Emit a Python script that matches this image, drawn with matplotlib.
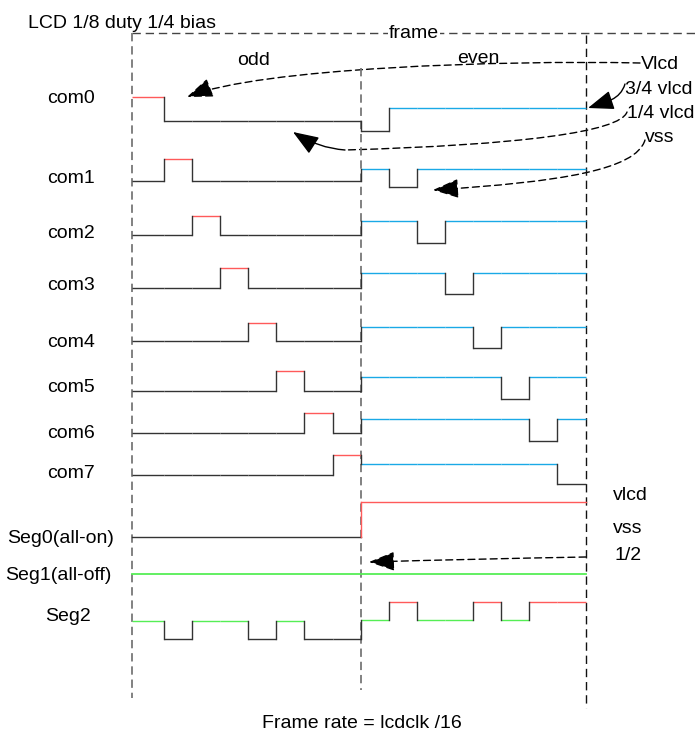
import matplotlib
matplotlib.use('Agg')
import matplotlib.pyplot as plt
from matplotlib.path import Path
from matplotlib.patches import FancyArrowPatch

plt.rcParams['font.family'] = ['Liberation Sans', 'DejaVu Sans']
plt.rcParams['lines.scale_dashes'] = False

# time slot boundaries (odd frame / even frame)
odd_edges = [132, 164, 192, 220, 248, 276, 304, 333, 361]
even_edges = [361, 389, 417, 445, 473, 501, 529, 557, 586]

# com waveforms: level of selected / unselected slot
com_names = ['com0', 'com1', 'com2', 'com3', 'com4', 'com5', 'com6', 'com7']
com_label_y = [103, 183, 238, 290, 347, 392, 438, 478]
odd_high = [97, 159, 216, 268, 323, 371, 413, 455]
odd_low = [121, 181, 235, 288, 341, 391, 433, 475]
even_high = [108, 169, 221, 273, 327, 377, 419, 464]
even_low = [131, 187, 243, 294, 348, 399, 441, 484]

# segments
seg_names = ['Seg0(all-on)', 'Seg1(all-off)', 'Seg2']
seg_label_x = [7, 5, 45]
seg_label_y = [543, 580, 621]
seg0_odd, seg0_even = 537, 502
seg1_level = 574
seg2_odd_levels = (639, 621)   # low, high
seg2_even_levels = (620, 602)
seg2_odd = [1, 0, 1, 1, 0, 1, 0, 0]
seg2_even = [0, 1, 0, 0, 1, 0, 1, 1]

# voltage labels on the right
volt_top = ['Vlcd', '3/4 vlcd', '1/4 vlcd', 'vss']
volt_top_x = [641, 625, 627, 645]
volt_top_y = [69, 94, 118, 142]
volt_bot = ['vlcd', 'vss', '1/2']
volt_bot_x = [613, 613, 614]
volt_bot_y = [500, 533, 560]

RED = '#ff5a5a'
BLUE = '#1aa9e6'
GREEN = '#55ee55'
BLK = '#333333'
LW = 1.0
FS = 14

fig = plt.figure(figsize=(6.97, 7.32), dpi=100)
ax = fig.add_axes([0, 0, 1, 1])
ax.set_xlim(0, 697)
ax.set_ylim(732, 0)
ax.axis('off')


def wave(edges, levels, colors):
    for k in range(len(levels)):
        ax.plot([edges[k], edges[k + 1]], [levels[k], levels[k]],
                color=colors[k], lw=LW, solid_capstyle='butt')
        if k > 0 and levels[k] != levels[k - 1]:
            ax.plot([edges[k], edges[k]], [levels[k - 1], levels[k]], color=BLK, lw=LW)


# dashed frame lines
ax.plot([132, 697], [33, 33], color='#444444', lw=LW, ls=(0, (6, 3.5)))
ax.plot([132, 132], [33, 698], color='#777777', lw=1.3, ls=(0, (6, 3.5)))
ax.plot([361, 361], [68, 690], color='#777777', lw=1.3, ls=(0, (6, 3.5)))
ax.plot([586, 586], [35, 708], color='#111111', lw=LW, ls=(0, (6, 3.5)))

# com lines
for i in range(8):
    lv = [odd_high[i] if k == i else odd_low[i] for k in range(8)]
    cl = [RED if k == i else BLK for k in range(8)]
    wave(odd_edges, lv, cl)
    ev = [even_low[i] if k == i else even_high[i] for k in range(8)]
    ce = [BLK if k == i else BLUE for k in range(8)]
    wave(even_edges, ev, ce)
    ax.plot([361, 361], [lv[-1], ev[0]], color=BLK, lw=LW)
    ax.text(47, com_label_y[i], com_names[i], fontsize=FS, va='baseline')

# seg0
ax.plot([132, 361], [seg0_odd, seg0_odd], color=BLK, lw=LW)
ax.plot([361, 361], [seg0_odd, seg0_even], color=RED, lw=LW)
ax.plot([361, 586], [seg0_even, seg0_even], color=RED, lw=LW)
# seg1
ax.plot([132, 586], [seg1_level, seg1_level], color=GREEN, lw=1.3)
# seg2
wave(odd_edges, [seg2_odd_levels[b] for b in seg2_odd],
     [GREEN if b else BLK for b in seg2_odd])
wave(even_edges, [seg2_even_levels[b] for b in seg2_even],
     [RED if b else GREEN for b in seg2_even])
ax.plot([361, 361], [seg2_odd_levels[seg2_odd[-1]], seg2_even_levels[seg2_even[0]]],
        color=BLK, lw=LW)

for name, x, y in zip(seg_names, seg_label_x, seg_label_y):
    ax.text(x, y, name, fontsize=FS, va='baseline')
for name, x, y in zip(volt_top, volt_top_x, volt_top_y):
    ax.text(x, y, name, fontsize=FS, va='baseline')
for name, x, y in zip(volt_bot, volt_bot_x, volt_bot_y):
    ax.text(x, y, name, fontsize=FS, va='baseline')

ax.text(28, 28, 'LCD 1/8 duty 1/4 bias', fontsize=FS, va='baseline')
ax.text(237, 65, 'odd', fontsize=FS, va='baseline')
ax.text(457, 63, 'even', fontsize=FS, va='baseline')
ax.text(414, 33, 'frame', fontsize=FS, va='center', ha='center',
        bbox=dict(facecolor='white', edgecolor='none', pad=0.5))
ax.text(262, 728, 'Frame rate = lcdclk /16', fontsize=FS, va='baseline')


def curve(pts, dashed=True, head=True):
    codes = [Path.MOVETO] + [Path.CURVE4 if len(pts) == 4 else Path.CURVE3] * (len(pts) - 1)
    style = '-|>,head_length=16,head_width=6' if head else '-'
    p = FancyArrowPatch(path=Path(pts, codes), arrowstyle=style, mutation_scale=1,
                        color='black', lw=LW, ls=(0, (5, 3)) if dashed else '-',
                        transform=ax.transData)
    ax.add_patch(p)


curve([(640, 63), (500, 60), (260, 68), (187, 97)])
curve([(625, 84), (620, 100), (606, 102), (588, 108)], dashed=False)
curve([(627, 112), (620, 132), (520, 145), (345, 150)], head=False)
curve([(345, 150), (318, 148), (293, 132)], dashed=False)
curve([(645, 140), (636, 170), (560, 182), (433, 190)])
curve([(586, 557), (470, 559), (369, 562)])

fig.savefig('out.png', dpi=100)
